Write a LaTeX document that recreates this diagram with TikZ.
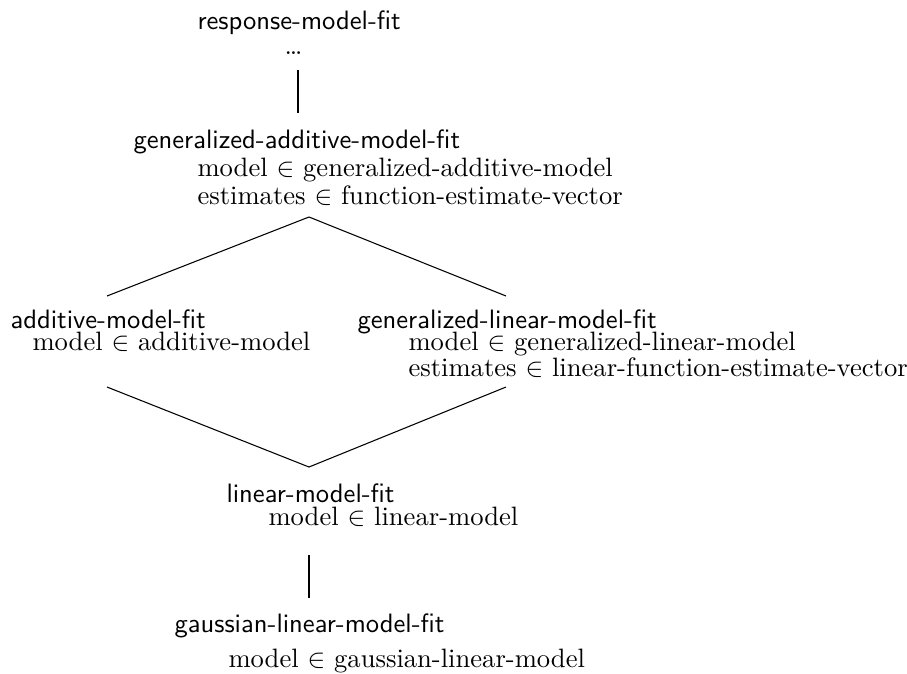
\documentclass[tikz,border=0pt]{standalone}
\usepackage{amssymb,amsmath}
\usetikzlibrary{positioning}

\begin{document}
\begin{tikzpicture}[x=0.376pt, y=-0.376pt,
                    fit title/.style= {font=\sffamily,
                      anchor=base west,
                      inner sep=0pt},
                    fit slot/.style= {anchor=base west,
                      inner sep=0pt},
                    link/.style= {line width=0.4pt},
                    stem/.style= {line width=0.75pt}]

  \useasboundingbox (0,0) rectangle (907,673);

  % response-model-fit
  \node[fit title] (rmf) at (197,29) {response-model-fit};
  \node[fit slot] (rmf-dots) at (284,54) {\ldots};
  \coordinate (rmf-s) at (298,70);

  % generalized-additive-model-fit
  \coordinate (gam-n) at (298,113);
  \node[fit title] (gam) at (133,148) {generalized-additive-model-fit};
  \node[fit slot] (gam-1) at (197,176) {model $\in$ generalized-additive-model};
  \node[fit slot] (gam-2) at (197,204) {estimates $\in$ function-estimate-vector};
  \coordinate (gam-s) at (309,217);

  % additive-model-fit
  \coordinate (am-n) at (107,296);
  \node[fit title] (am) at (10,328) {additive-model-fit};
  \node[fit slot] (am-1) at (32,350) {model $\in$ additive-model};
  \coordinate (am-s) at (107,387);

  % generalized-linear-model-fit
  \coordinate (glm-n) at (506,296);
  \node[fit title] (glm) at (357,328) {generalized-linear-model-fit};
  \node[fit slot] (glm-1) at (408,350) {model $\in$ generalized-linear-model};
  \node[fit slot] (glm-2) at (408,376) {estimates $\in$ linear-function-estimate-vector};
  \coordinate (glm-s) at (506,387);

  % linear-model-fit
  \coordinate (lm-n) at (309,467);
  \node[fit title] (lm) at (226,502) {linear-model-fit};
  \node[fit slot] (lm-1) at (268,525) {model $\in$ linear-model};
  \coordinate (lm-s) at (309,555);

  % gaussian-linear-model-fit
  \coordinate (glmg-n) at (309,598);
  \node[fit title] (glmg) at (174,632) {gaussian-linear-model-fit};
  \node[fit slot] (glmg-1) at (228,667) {model $\in$ gaussian-linear-model};

  \draw[stem] (rmf-s) -- (gam-n);
  \draw[link] (gam-s) -- (am-n);
  \draw[link] (gam-s) -- (glm-n);
  \draw[link] (am-s) -- (lm-n);
  \draw[link] (glm-s) -- (lm-n);
  \draw[stem] (lm-s) -- (glmg-n);
\end{tikzpicture}
\end{document}
